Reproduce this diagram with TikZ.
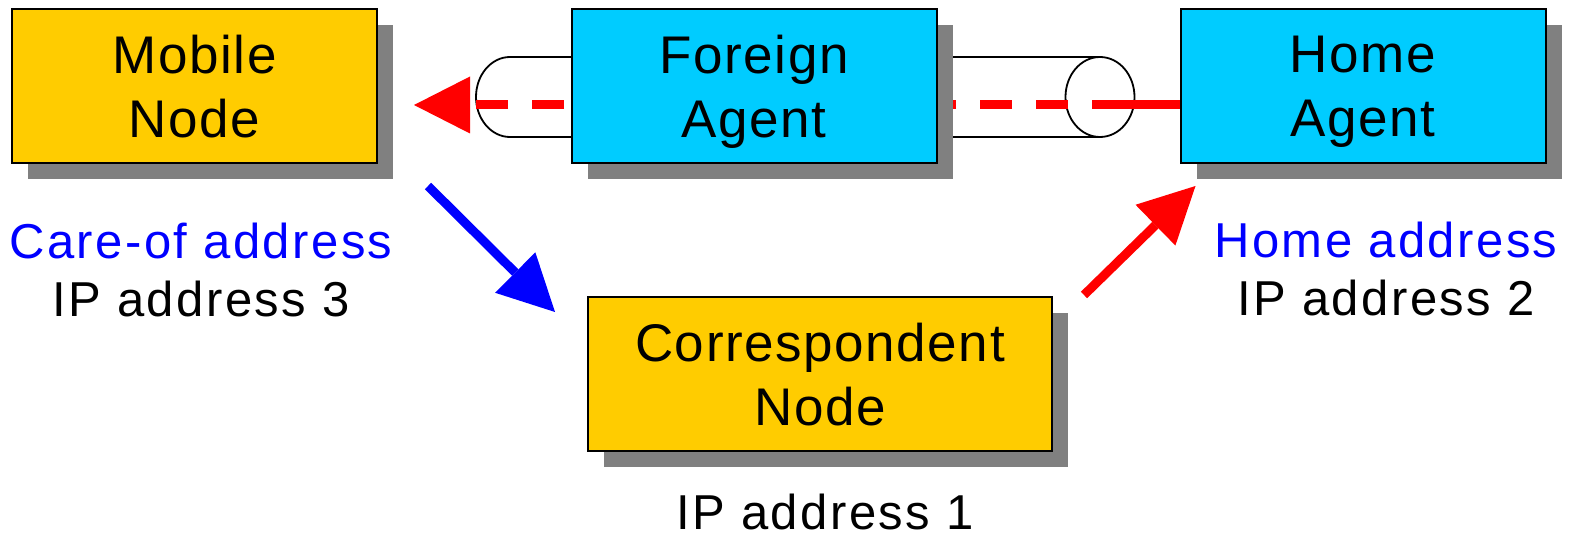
\documentclass[tikz,border=0pt]{standalone}
\usepackage{fontspec}
\setmainfont{Liberation Sans}
\newfontfamily\boxfont[LetterSpace=3]{Liberation Sans}
\newfontfamily\lblfont[LetterSpace=5]{Liberation Sans}
\usetikzlibrary{arrows.meta,shadows,backgrounds,calc}
\definecolor{nodegold}{HTML}{FFCC00}
\definecolor{agentcyan}{HTML}{00CCFF}
\definecolor{shadowgray}{HTML}{808080}
\definecolor{linkred}{HTML}{FF0000}
\definecolor{linkblue}{HTML}{0000FF}

\begin{document}
\begin{tikzpicture}[x=0.5pt,y=-0.5pt,
  box/.style={draw=black, line width=1pt, minimum height=77pt, minimum width=182.5pt,
    inner sep=0pt, align=center, text depth=0pt,
    font=\boxfont\fontsize{26.5pt}{32pt}\selectfont,
    general shadow={fill=shadowgray, shadow xshift=8pt, shadow yshift=-8pt}},
  hostbox/.style={box, fill=nodegold},
  agentbox/.style={box, fill=agentcyan},
  lbl/.style={inner sep=0pt, anchor=base, font=\lblfont\fontsize{24.5pt}{29pt}\selectfont},
  tube/.style={draw=black, line width=0.9pt},
  bigtip/.style={-{Triangle[length=28pt,width=28.5pt,line width=0pt]}},
  flow/.style={line width=4.5pt, bigtip},
]
\useasboundingbox (0,0) rectangle (1575,534);

% hosts and agents
\node[hostbox]  (mn) at (194.5,86) {Mobile\\Node};
\node[agentbox] (fa) at (754,86)   {Foreign\\Agent};
\node[agentbox] (ha) at (1363,86)  {Home\\Agent};
\node[hostbox, minimum width=232pt] (cn) at (820,374) {Correspondent\\Node};

% addresses
\node[lbl, text=linkblue] (coa) at (201,259) {Care-of address};
\node[lbl]                (ip3) at (201,317) {IP address 3};
\node[lbl, text=linkblue] (hoa) at (1386,258) {Home address};
\node[lbl]                (ip2) at (1386,316) {IP address 2};
\node[lbl]                (ip1) at (825,529) {IP address 1};

% tunnel from the home agent to the foreign agent
\coordinate (mouth) at (1092,105);
\coordinate (mntip) at ($(mn.east |- mouth)+(36,0)$);
\begin{pgfonlayer}{background}
  \draw[tube] (1100,57) -- (510,57)
    arc[start angle=270, end angle=90, x radius=34, y radius=40] -- (1100,137);
  \draw[tube] (1100,97) ellipse [x radius=34.5, y radius=40];
  \draw[linkred, line width=4.5pt] (ha.west |- mouth) -- (mouth);
  \draw[linkred, flow, dash pattern=on 16pt off 12pt, dash phase=16pt] (mouth) -- (mntip);
\end{pgfonlayer}

% traffic between mobile node, correspondent node and home agent
\coordinate (b0) at ($(mn.south east)+(50,22)$);
\coordinate (b1) at ($(cn.north west)+(-32,16)$);
\draw[linkblue, flow] (b0) -- (b1);
\coordinate (r0) at ($(cn.north east)+(31,-1)$);
\coordinate (r1) at ($(ha.south west)+(16,22)$);
\draw[linkred, flow] (r0) -- (r1);
\end{tikzpicture}
\end{document}
